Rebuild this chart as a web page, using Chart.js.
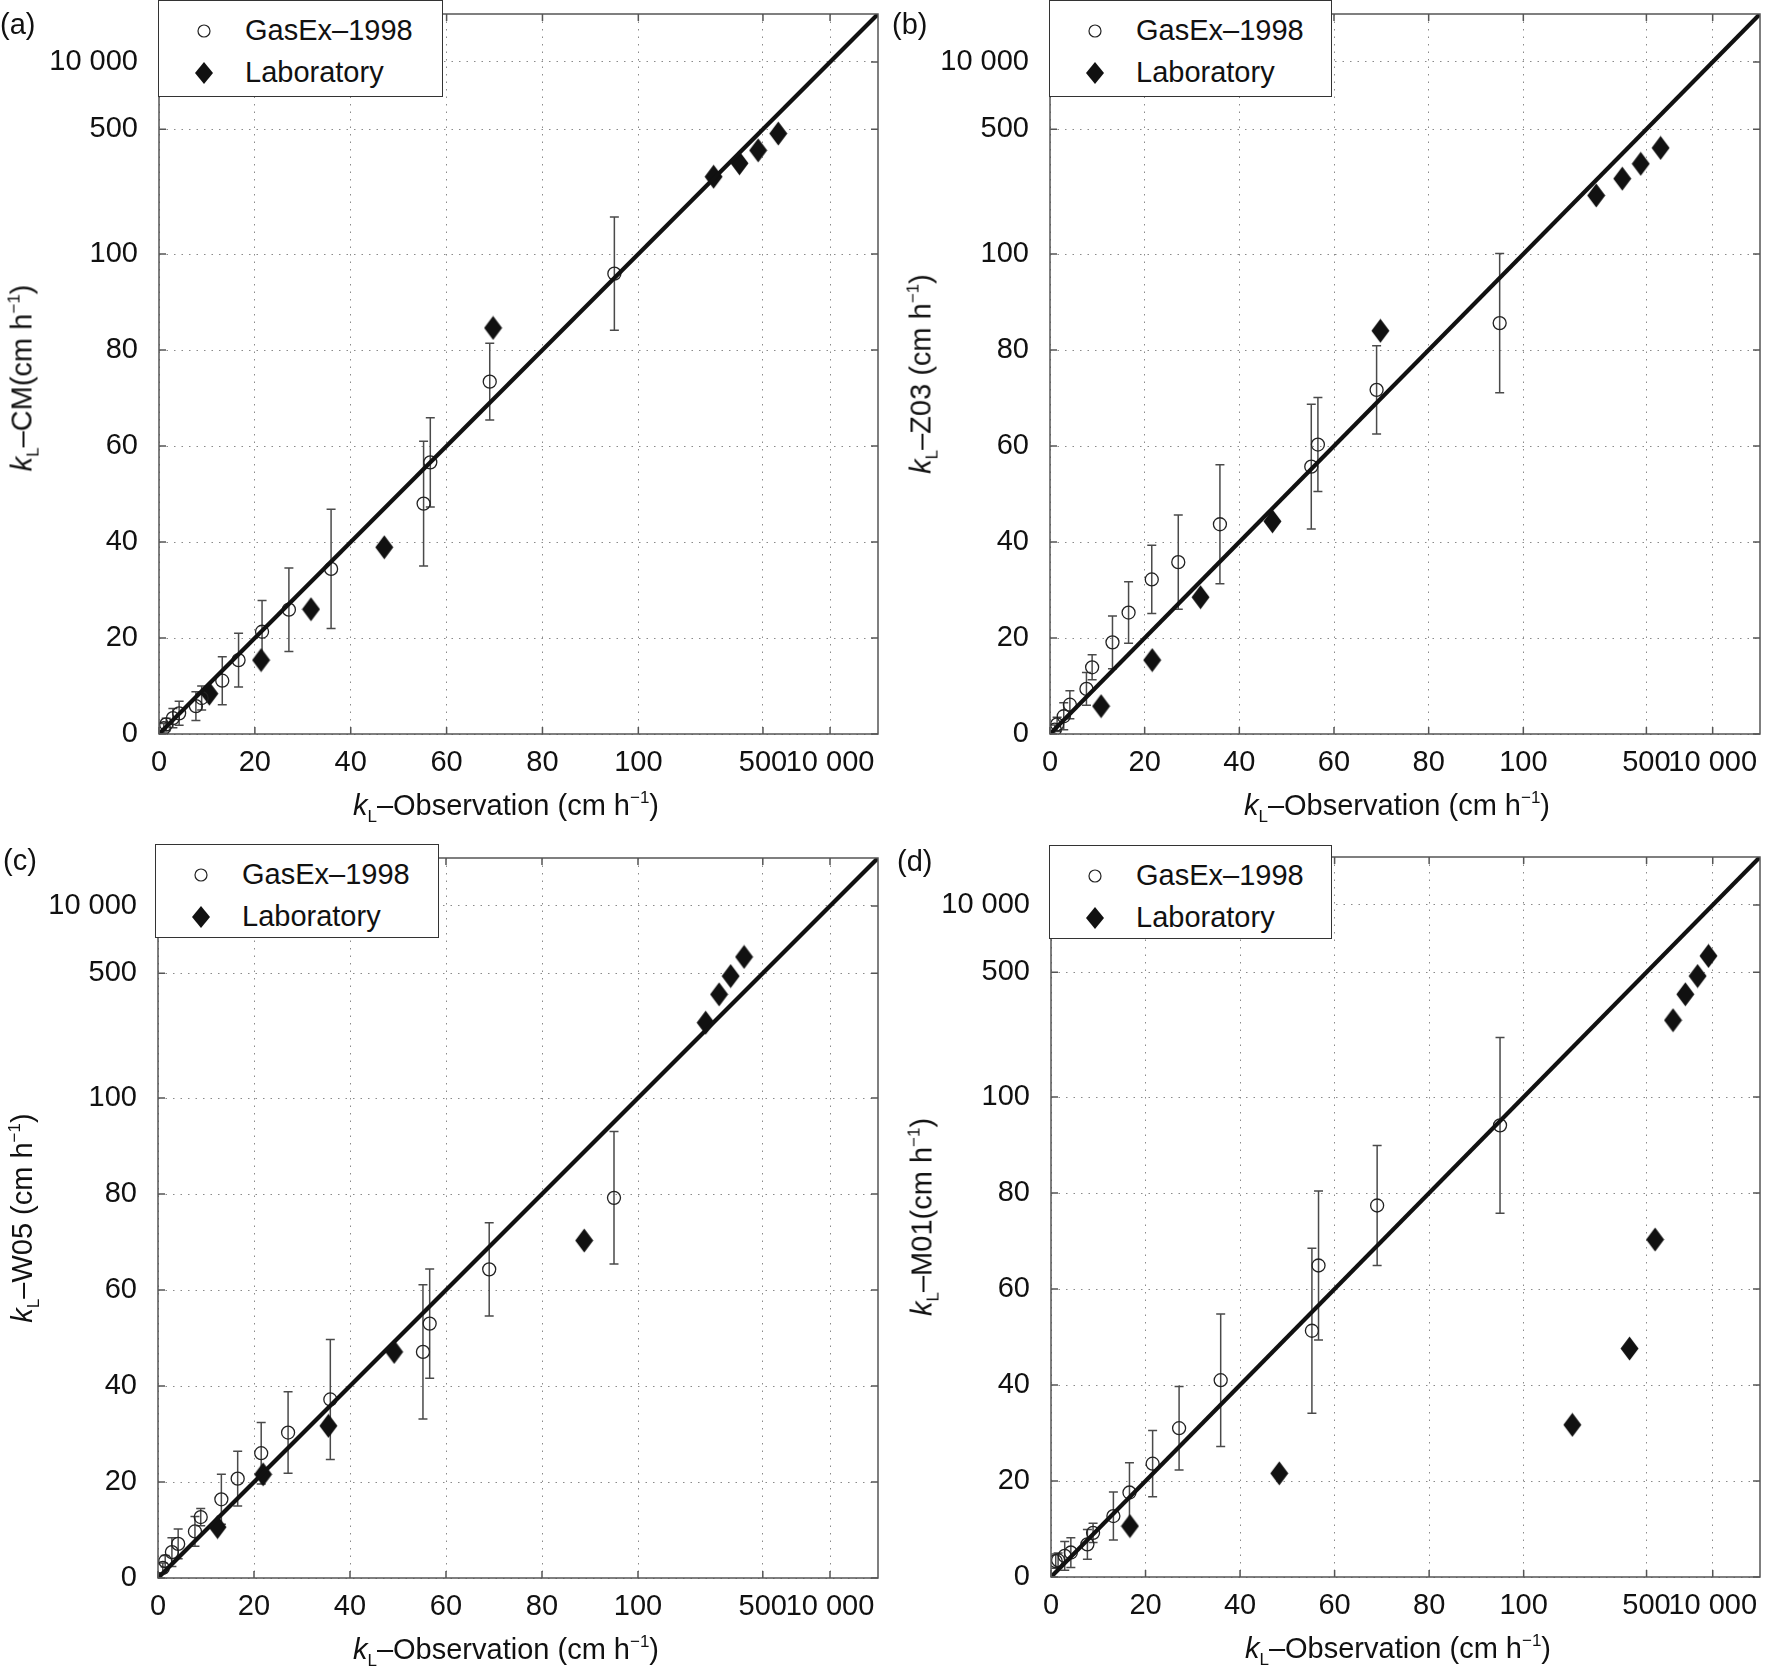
<!DOCTYPE html>
<html>
<head>
<meta charset="utf-8">
<script src="https://cdn.jsdelivr.net/npm/chart.js@4.4.1/dist/chart.umd.min.js"></script>
<style>
  html, body { margin: 0; padding: 0; background: #fff; }
  #page { position: relative; width: 1773px; height: 1667px; background: #fff; overflow: hidden;
          font-family: "Liberation Sans", Arial, Helvetica, sans-serif; color: #111; }
  #page canvas { position: absolute; }
  .plabel { position: absolute; font-size: 29px; line-height: 29px; white-space: nowrap; }
  .title { position: absolute; font-size: 29px; line-height: 29px; white-space: nowrap; transform: translate(-50%, -50%); }
  .title.y { transform: translate(-50%, -50%) rotate(-90deg); }
  .title sub { font-size: 17px; line-height: 0; vertical-align: -7px; }
  .title sup { font-size: 17px; line-height: 0; vertical-align: 12px; }
  .legend { position: absolute; background: #fff; border: 1.5px solid #333; box-sizing: border-box; }
  .legend .item { position: absolute; left: 0; font-size: 29px; line-height: 29px; white-space: nowrap; }
  .legend svg { position: absolute; }
</style>
</head>
<body>
<div id="page"></div>
<script>
// ---------------- data ----------------
const AXIS_MIN = 0;
const AXIS_MAX = 150;
const TICK_VALUES = [0, 20, 40, 60, 80, 100, 126, 140];
const TICK_LABELS = ['0', '20', '40', '60', '80', '100', '500', '10 000'];
const SERIES_NAMES = ['GasEx\u20131998', 'Laboratory'];
const PANEL_TAGS = ['(a)', '(b)', '(c)', '(d)'];
const Y_MODELS = ['CM(cm h', 'Z03 (cm h', 'W05 (cm h', 'M01(cm h'];

// GasEx-1998 observed kL (x), shared by all panels
const GASEX_OBS = [1.0, 1.5, 2.9, 4.2, 7.7, 8.9, 13.2, 16.6, 21.5, 27.1, 35.9, 55.2, 56.6, 69.0, 95.0];

// (a) CM
const GASEX_CM     = [1.2, 2.0, 3.3, 4.3, 5.8, 7.5, 11.1, 15.4, 21.3, 25.9, 34.4, 48.0, 56.6, 73.4, 95.9];
const GASEX_CM_ERR = [1.0, 1.3, 2.0, 2.5, 3.0, 2.5, 5.0, 5.6, 6.5, 8.7, 12.4, 13.0, 9.3, 8.0, 11.8];
const LAB_OBS_CM   = [10.5, 21.3, 31.7, 47.0, 69.7, 115.7, 121.1, 125.0, 129.2];
const LAB_CM       = [8.4, 15.4, 26.0, 38.9, 84.6, 116.1, 118.9, 121.6, 125.1];

// (b) Z03
const GASEX_Z03     = [0.9, 2.0, 3.7, 6.1, 9.4, 13.9, 19.1, 25.3, 32.2, 35.8, 43.7, 55.7, 60.3, 71.7, 85.6];
const GASEX_Z03_ERR = [1.0, 1.5, 2.8, 2.9, 3.4, 2.6, 5.5, 6.4, 7.1, 9.8, 12.4, 13.0, 9.8, 9.2, 14.5];
const LAB_OBS_Z03   = [10.8, 21.6, 31.8, 47.0, 69.8, 115.4, 120.9, 124.8, 129.0];
const LAB_Z03       = [5.8, 15.4, 28.5, 44.3, 84.0, 112.2, 115.7, 118.8, 122.1];

// (c) W05
const GASEX_W05     = [2.1, 3.5, 5.4, 7.1, 9.7, 12.7, 16.4, 20.7, 26.0, 30.3, 37.2, 47.1, 53.0, 64.3, 79.2];
const GASEX_W05_ERR = [1.0, 1.2, 3.0, 3.1, 3.1, 1.8, 5.2, 5.7, 6.4, 8.5, 12.5, 14.0, 11.4, 9.7, 13.8];
const LAB_OBS_W05   = [12.4, 21.9, 35.5, 49.2, 88.8, 114.1, 116.9, 119.3, 122.1];
const LAB_W05       = [10.6, 21.6, 31.7, 47.1, 70.3, 115.7, 121.6, 125.4, 129.4];

// (d) M01
const GASEX_M01     = [3.3, 3.5, 4.4, 5.1, 6.8, 9.2, 12.7, 17.6, 23.6, 31.0, 41.0, 51.3, 64.9, 77.4, 94.1];
const GASEX_M01_ERR = [1.5, 1.5, 3.0, 3.1, 3.1, 2.0, 5.0, 6.2, 6.9, 8.7, 13.8, 17.2, 15.5, 12.5, 18.3];
const LAB_OBS_M01   = [16.7, 48.3, 110.3, 122.4, 127.8, 131.6, 134.2, 136.8, 139.1];
const LAB_M01       = [10.6, 21.6, 31.7, 47.6, 70.3, 116.0, 121.4, 125.2, 129.4];

// 1:1 reference line end points
const ONE_TO_ONE = [AXIS_MIN, AXIS_MAX];

// ---------------- layout (pixels) ----------------
const LAYOUT = [
  { L: 159,  T: 14,  R: 878,  B: 734,  cx: 0,   cy: 0,   cw: 895, lg: [158, 0, 285, 97],   tag: [0, 10],    xt: [506, 805],  yt: [22, 378] },
  { L: 1050, T: 14,  R: 1770, B: 734,  cx: 890, cy: 0,   cw: 883, lg: [1049, 0, 283, 97],  tag: [892, 10],  xt: [1397, 805], yt: [921, 374] },
  { L: 158,  T: 858, R: 878,  B: 1578, cx: 0,   cy: 844, cw: 895, lg: [155, 844, 284, 94], tag: [3, 846],   xt: [506, 1649], yt: [22, 1218] },
  { L: 1051, T: 857, R: 1771, B: 1577, cx: 891, cy: 843, cw: 882, lg: [1049, 845, 283, 94], tag: [897, 847], xt: [1398, 1648], yt: [922, 1217] }
];

const PANEL_DATA = [
  { gy: GASEX_CM,  ge: GASEX_CM_ERR,  lx: LAB_OBS_CM,  ly: LAB_CM },
  { gy: GASEX_Z03, ge: GASEX_Z03_ERR, lx: LAB_OBS_Z03, ly: LAB_Z03 },
  { gy: GASEX_W05, ge: GASEX_W05_ERR, lx: LAB_OBS_W05, ly: LAB_W05 },
  { gy: GASEX_M01, ge: GASEX_M01_ERR, lx: LAB_OBS_M01, ly: LAB_M01 }
];

// ---------------- helpers ----------------
const FONT = '"Liberation Sans", Arial, Helvetica, sans-serif';
Chart.defaults.font.family = FONT;
Chart.defaults.font.size = 29;
Chart.defaults.color = '#111';

function makeDiamond(w, h, color) {
  const c = document.createElement('canvas');
  c.width = w; c.height = h;
  const g = c.getContext('2d');
  g.fillStyle = color;
  g.beginPath();
  g.moveTo(w / 2, 0.5); g.lineTo(w - 0.5, h / 2); g.lineTo(w / 2, h - 0.5); g.lineTo(0.5, h / 2);
  g.closePath(); g.fill();
  return c;
}
const DIAMOND = makeDiamond(19, 25, '#111');

const errorBarPlugin = {
  id: 'errorBars',
  beforeDatasetsDraw(chart) {
    const { ctx, chartArea, scales: { x, y } } = chart;
    ctx.save();
    ctx.beginPath();
    ctx.rect(chartArea.left, chartArea.top, chartArea.right - chartArea.left, chartArea.bottom - chartArea.top);
    ctx.clip();
    ctx.strokeStyle = '#4a4a4a';
    ctx.lineWidth = 1.5;
    chart.data.datasets.forEach(ds => {
      if (!ds.errors) return;
      ds.data.forEach((pt, i) => {
        const e = ds.errors[i];
        const px = x.getPixelForValue(pt.x);
        const y1 = y.getPixelForValue(pt.y + e);
        const y2 = y.getPixelForValue(pt.y - e);
        ctx.beginPath();
        ctx.moveTo(px, y1); ctx.lineTo(px, y2);
        ctx.moveTo(px - 4.5, y1); ctx.lineTo(px + 4.5, y1);
        ctx.moveTo(px - 4.5, y2); ctx.lineTo(px + 4.5, y2);
        ctx.stroke();
      });
    });
    ctx.restore();
  }
};

const framePlugin = {
  id: 'frame',
  afterDatasetsDraw(chart) {
    const { ctx, chartArea: { left, top, right, bottom }, scales: { x, y } } = chart;
    ctx.save();
    ctx.strokeStyle = '#555';
    ctx.lineWidth = 1.5;
    ctx.strokeRect(left, top, right - left, bottom - top);
    ctx.beginPath();
    x.ticks.forEach((t, i) => {
      const px = x.getPixelForTick(i);
      ctx.moveTo(px, bottom); ctx.lineTo(px, bottom - 7);
      ctx.moveTo(px, top); ctx.lineTo(px, top + 7);
    });
    y.ticks.forEach((t, i) => {
      const py = y.getPixelForTick(i);
      ctx.moveTo(left, py); ctx.lineTo(left + 7, py);
      ctx.moveTo(right, py); ctx.lineTo(right - 7, py);
    });
    ctx.stroke();
    ctx.restore();
  }
};

function tickLabel(v) {
  const i = TICK_VALUES.indexOf(v);
  return i >= 0 ? TICK_LABELS[i] : '';
}

function axisOptions(isX, size) {
  return {
    type: 'linear',
    position: isX ? 'bottom' : 'left',
    min: AXIS_MIN,
    max: AXIS_MAX,
    bounds: 'data',
    afterBuildTicks: s => { s.ticks = TICK_VALUES.map(v => ({ value: v })); },
    afterFit: s => {
      if (isX) s.height = size; else s.width = size;
      s.paddingTop = 0; s.paddingBottom = 0; s.paddingLeft = 0; s.paddingRight = 0;
    },
    ticks: {
      autoSkip: false, maxRotation: 0, minRotation: 0,
      padding: isX ? 12 : 21,
      color: '#111',
      font: { size: 29, family: FONT },
      callback: v => tickLabel(v)
    },
    grid: { color: '#8a8a8a', lineWidth: 1, drawTicks: false, borderDash: [1.5, 6] },
    border: { display: false, dash: [1.5, 6] }
  };
}

const page = document.getElementById('page');

function addTitle(html, cx, cy, vertical) {
  const d = document.createElement('div');
  d.className = 'title' + (vertical ? ' y' : '');
  d.style.left = cx + 'px';
  d.style.top = cy + 'px';
  d.innerHTML = html;
  page.appendChild(d);
}

function addLegend(lg) {
  const [l, t, w, h] = lg;
  const box = document.createElement('div');
  box.className = 'legend';
  box.style.left = l + 'px'; box.style.top = t + 'px';
  box.style.width = w + 'px'; box.style.height = h + 'px';
  const rows = [29.5, 71.5];
  SERIES_NAMES.forEach((name, i) => {
    const ns = 'http://www.w3.org/2000/svg';
    const svg = document.createElementNS(ns, 'svg');
    svg.setAttribute('width', '24'); svg.setAttribute('height', '26');
    svg.style.left = (45 - 12) + 'px';
    svg.style.top = (rows[i] - 13) + 'px';
    if (i === 0) {
      const c = document.createElementNS(ns, 'circle');
      c.setAttribute('cx', '12'); c.setAttribute('cy', '13'); c.setAttribute('r', '6');
      c.setAttribute('fill', 'none'); c.setAttribute('stroke', '#222'); c.setAttribute('stroke-width', '1.2');
      svg.appendChild(c);
    } else {
      const p = document.createElementNS(ns, 'polygon');
      p.setAttribute('points', '12,2 21,13 12,24 3,13');
      p.setAttribute('fill', '#111');
      svg.appendChild(p);
    }
    box.appendChild(svg);
    const it = document.createElement('div');
    it.className = 'item';
    it.style.left = '86px';
    it.style.top = (rows[i] - 15) + 'px';
    it.textContent = name;
    box.appendChild(it);
  });
  page.appendChild(box);
}

LAYOUT.forEach((p, k) => {
  const dat = PANEL_DATA[k];
  const ch = (p.B - p.cy) + 60 + 20;
  const cv = document.createElement('canvas');
  cv.width = p.cw; cv.height = ch;
  cv.style.left = p.cx + 'px'; cv.style.top = p.cy + 'px';
  cv.style.width = p.cw + 'px'; cv.style.height = ch + 'px';
  page.appendChild(cv);

  new Chart(cv.getContext('2d'), {
    type: 'scatter',
    data: {
      datasets: [
        {
          label: '1:1',
          type: 'line',
          data: ONE_TO_ONE.map(v => ({ x: v, y: v })),
          showLine: true,
          borderColor: '#111',
          borderWidth: 4.2,
          pointRadius: 0,
          fill: false,
          order: 1
        },
        {
          label: SERIES_NAMES[0],
          data: GASEX_OBS.map((x, i) => ({ x: x, y: dat.gy[i] })),
          errors: dat.ge,
          pointStyle: 'circle',
          pointRadius: 6.5,
          borderColor: '#222',
          borderWidth: 1.3,
          backgroundColor: 'rgba(0,0,0,0)',
          order: 2
        },
        {
          label: SERIES_NAMES[1],
          data: dat.lx.map((x, i) => ({ x: x, y: dat.ly[i] })),
          pointStyle: DIAMOND,
          pointRadius: 12,
          backgroundColor: '#111',
          borderColor: '#111',
          order: 3
        }
      ]
    },
    options: {
      responsive: false,
      animation: false,
      devicePixelRatio: 1,
      events: [],
      layout: { padding: { left: 0, top: p.T - p.cy, right: p.cw - (p.R - p.cx), bottom: 20 } },
      plugins: { legend: { display: false }, tooltip: { enabled: false }, title: { display: false } },
      scales: {
        x: axisOptions(true, 60),
        y: axisOptions(false, p.L - p.cx)
      }
    },
    plugins: [errorBarPlugin, framePlugin]
  });

  addLegend(p.lg);

  const tag = document.createElement('div');
  tag.className = 'plabel';
  tag.style.left = p.tag[0] + 'px'; tag.style.top = p.tag[1] + 'px';
  tag.textContent = PANEL_TAGS[k];
  page.appendChild(tag);

  addTitle('<i>k</i><sub>L</sub>\u2013Observation (cm h<sup>\u22121</sup>)', p.xt[0], p.xt[1], false);
  addTitle('<i>k</i><sub>L</sub>\u2013' + Y_MODELS[k] + '<sup>\u22121</sup>)', p.yt[0], p.yt[1], true);
});
</script>
</body>
</html>
